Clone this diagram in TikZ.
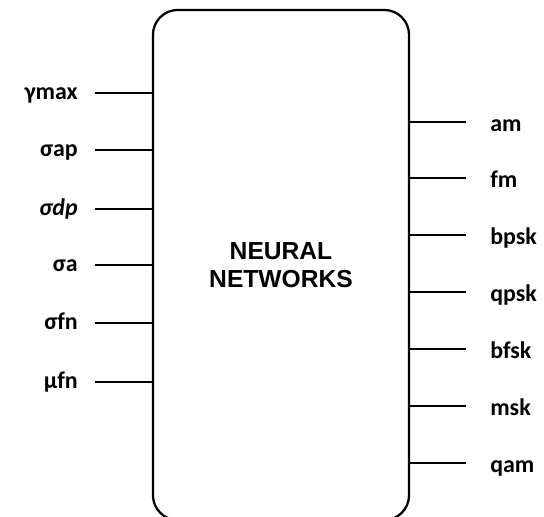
\documentclass[tikz,border=0pt]{standalone}
\usepackage{fontspec}
\setmainfont{Carlito}
\newfontfamily\arialfont{Liberation Sans}

\begin{document}
\begin{tikzpicture}[x=0.025cm, y=-0.025cm,
                    reseau/.style={draw, line width=1.6pt, rounded corners=0.62cm, minimum width=6.4cm, minimum height=12.75cm, align=center, font=\arialfont\bfseries\fontsize{17.5}{20}\selectfont},
                    entree/.style={anchor=base east, inner sep=0pt, font=\bfseries\fontsize{17}{20}\selectfont},
                    sortie/.style={anchor=base west, inner sep=0pt, font=\bfseries\fontsize{17}{20}\selectfont},
                    lien/.style={line width=1.2pt}
                ]
                \clip (0,0) rectangle (544,516);

                % Bloc central
                \node[reseau] (nn) at (281,265) {NEURAL\\NETWORKS};

                % Entrées (ligne à mi-hauteur des minuscules)
                \foreach \nom/\y/\txt in {e1/93/γmax, e2/150/σap, e3/209/{\itshape σdp}, e4/265/σa, e5/323/σfn, e6/382/μfn}{
                    \node[entree] (\nom) at (78,\y+6) {\txt};
                    \draw[lien] ([shift={(0.42cm,0.15cm)}]\nom.base east) -- ([yshift=0.15cm]\nom.base east -| nn.west);
                }

                % Sorties (texte un peu plus bas que la ligne)
                \foreach \nom/\y/\txt in {s1/122/am, s2/178/fm, s3/235/bpsk, s4/292/qpsk, s5/349/bfsk, s6/406/msk, s7/463/qam}{
                    \node[sortie] (\nom) at (490,\y+9) {\txt};
                    \draw[lien] ([yshift=0.225cm]\nom.base west -| nn.east) -- ([shift={(-0.6cm,0.225cm)}]\nom.base west);
                }

                \end{tikzpicture}
\end{document}
